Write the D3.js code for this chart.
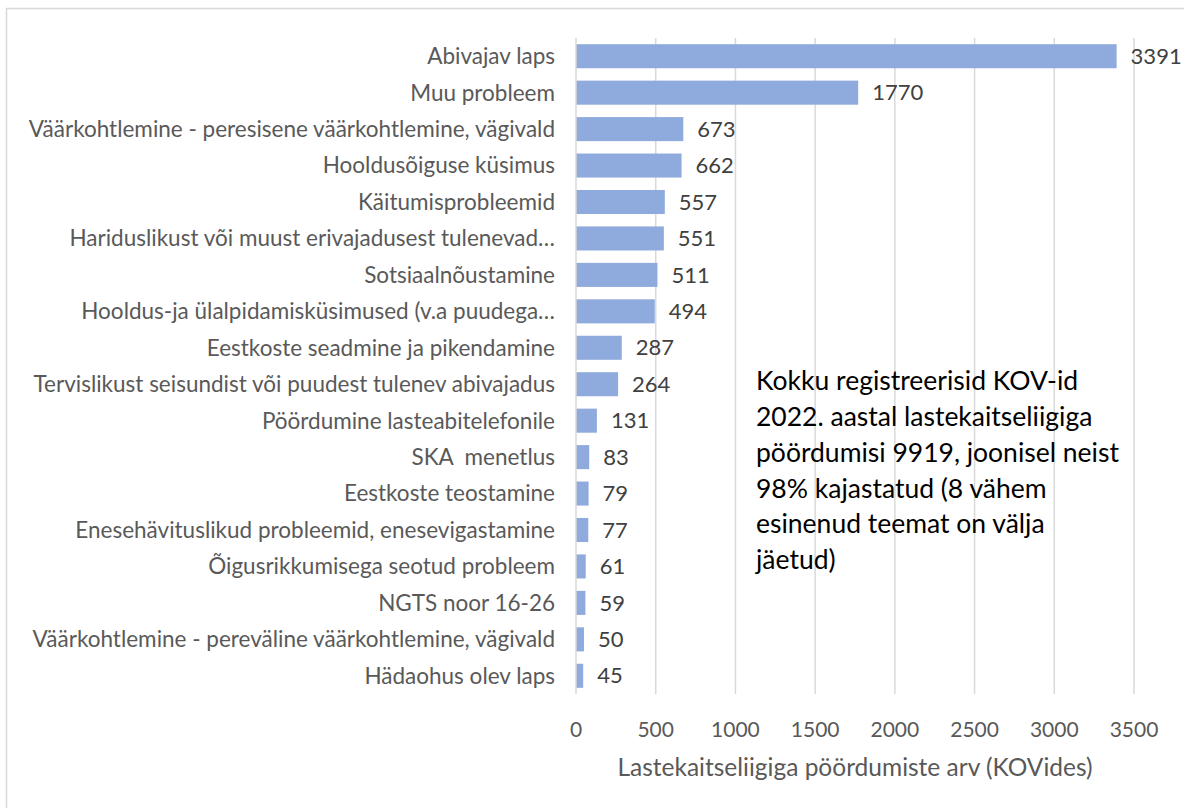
<!DOCTYPE html>
<html>
<head>
<meta charset="utf-8">
<script src="https://cdn.jsdelivr.net/npm/d3@7"></script>
<style>
  body { margin: 0; background: #fff; }
  svg { display: block; }
  text { font-family: Lato, "Open Sans", sans-serif; white-space: pre; }
</style>
</head>
<body>
<div id="chart"></div>
<script>
// data
var categories = [
  "Abivajav laps",
  "Muu probleem",
  "Väärkohtlemine - peresisene väärkohtlemine, vägivald",
  "Hooldusõiguse küsimus",
  "Käitumisprobleemid",
  "Hariduslikust või muust erivajadusest tulenevad…",
  "Sotsiaalnõustamine",
  "Hooldus-ja ülalpidamisküsimused (v.a puudega…",
  "Eestkoste seadmine ja pikendamine",
  "Tervislikust seisundist või puudest tulenev abivajadus",
  "Pöördumine lasteabitelefonile",
  "SKA  menetlus",
  "Eestkoste teostamine",
  "Enesehävituslikud probleemid, enesevigastamine",
  "Õigusrikkumisega seotud probleem",
  "NGTS noor 16-26",
  "Väärkohtlemine - pereväline väärkohtlemine, vägivald",
  "Hädaohus olev laps"
];
var values = [3391, 1770, 673, 662, 557, 551, 511, 494, 287, 264, 131, 83, 79, 77, 61, 59, 50, 45];
var xTicks = [0, 500, 1000, 1500, 2000, 2500, 3000, 3500];
var xTitle = "Lastekaitseliigiga pöördumiste arv (KOVides)";
var note = [
  "Kokku registreerisid KOV-id",
  "2022. aastal lastekaitseliigiga",
  "pöördumisi 9919, joonisel neist",
  "98% kajastatud (8 vähem",
  "esinenud teemat on välja",
  "jäetud)"
];

var W = 1184, H = 808;
// plot area (window.top is reserved, so keep these in an object)
var plot = {x0: 576, x1: 1134, y0: 38, y1: 694};

var svg = d3.select("#chart").append("svg")
  .attr("width", W)
  .attr("height", H);

// outer frame (runs off the right and bottom edge)
svg.append("rect")
  .attr("x", 6.5).attr("y", 8.5)
  .attr("width", W + 20).attr("height", H + 20)
  .attr("fill", "none")
  .attr("stroke", "#d9d9d9")
  .attr("stroke-width", 1.5);

var x = d3.scaleLinear().domain([0, 3500]).range([plot.x0, plot.x1]);
var y = d3.scaleBand().domain(categories).range([plot.y0, plot.y1]).paddingInner(0.34).paddingOuter(0.17);

// vertical gridlines
svg.selectAll(".grid")
  .data(xTicks.slice(1))
  .join("line")
  .attr("class", "grid")
  .attr("x1", d => x(d)).attr("x2", d => x(d))
  .attr("y1", plot.y0).attr("y2", plot.y1)
  .attr("stroke", "#d9d9d9")
  .attr("stroke-width", 1.5);

// bars
svg.selectAll(".bar")
  .data(values)
  .join("rect")
  .attr("class", "bar")
  .attr("x", x(0))
  .attr("y", (d, i) => y(categories[i]))
  .attr("width", d => x(d) - x(0))
  .attr("height", y.bandwidth())
  .attr("fill", "#8faadc");

// category axis line
svg.append("line")
  .attr("x1", x(0)).attr("x2", x(0))
  .attr("y1", plot.y0).attr("y2", plot.y1)
  .attr("stroke", "#d9d9d9")
  .attr("stroke-width", 1.5);

// category labels
svg.selectAll(".cat")
  .data(categories)
  .join("text")
  .attr("class", "cat")
  .attr("x", 555)
  .attr("y", d => y(d) + y.bandwidth() / 2)
  .attr("dy", "0.35em")
  .attr("text-anchor", "end")
  .attr("font-size", 22.5)
  .attr("fill", "#595959")
  .text(d => d);

// value labels
svg.selectAll(".val")
  .data(values)
  .join("text")
  .attr("class", "val")
  .attr("x", d => x(d) + 14)
  .attr("y", (d, i) => y(categories[i]) + y.bandwidth() / 2)
  .attr("dy", "0.35em")
  .attr("font-size", 22)
  .attr("fill", "#404040")
  .text(d => d);

// x tick labels
svg.selectAll(".tick")
  .data(xTicks)
  .join("text")
  .attr("class", "tick")
  .attr("x", d => x(d))
  .attr("y", 730)
  .attr("dy", "0.35em")
  .attr("text-anchor", "middle")
  .attr("font-size", 21)
  .attr("fill", "#595959")
  .text(d => d);

// axis title
svg.append("text")
  .attr("x", (plot.x0 + plot.x1) / 2)
  .attr("y", 767)
  .attr("dy", "0.35em")
  .attr("text-anchor", "middle")
  .attr("font-size", 24.5)
  .attr("fill", "#595959")
  .text(xTitle);

// note
svg.selectAll(".note")
  .data(note)
  .join("text")
  .attr("class", "note")
  .attr("x", 756)
  .attr("y", (d, i) => 381 + i * 35.8)
  .attr("dy", "0.35em")
  .attr("font-size", 26.5)
  .attr("fill", "#000")
  .text(d => d);
</script>
</body>
</html>
